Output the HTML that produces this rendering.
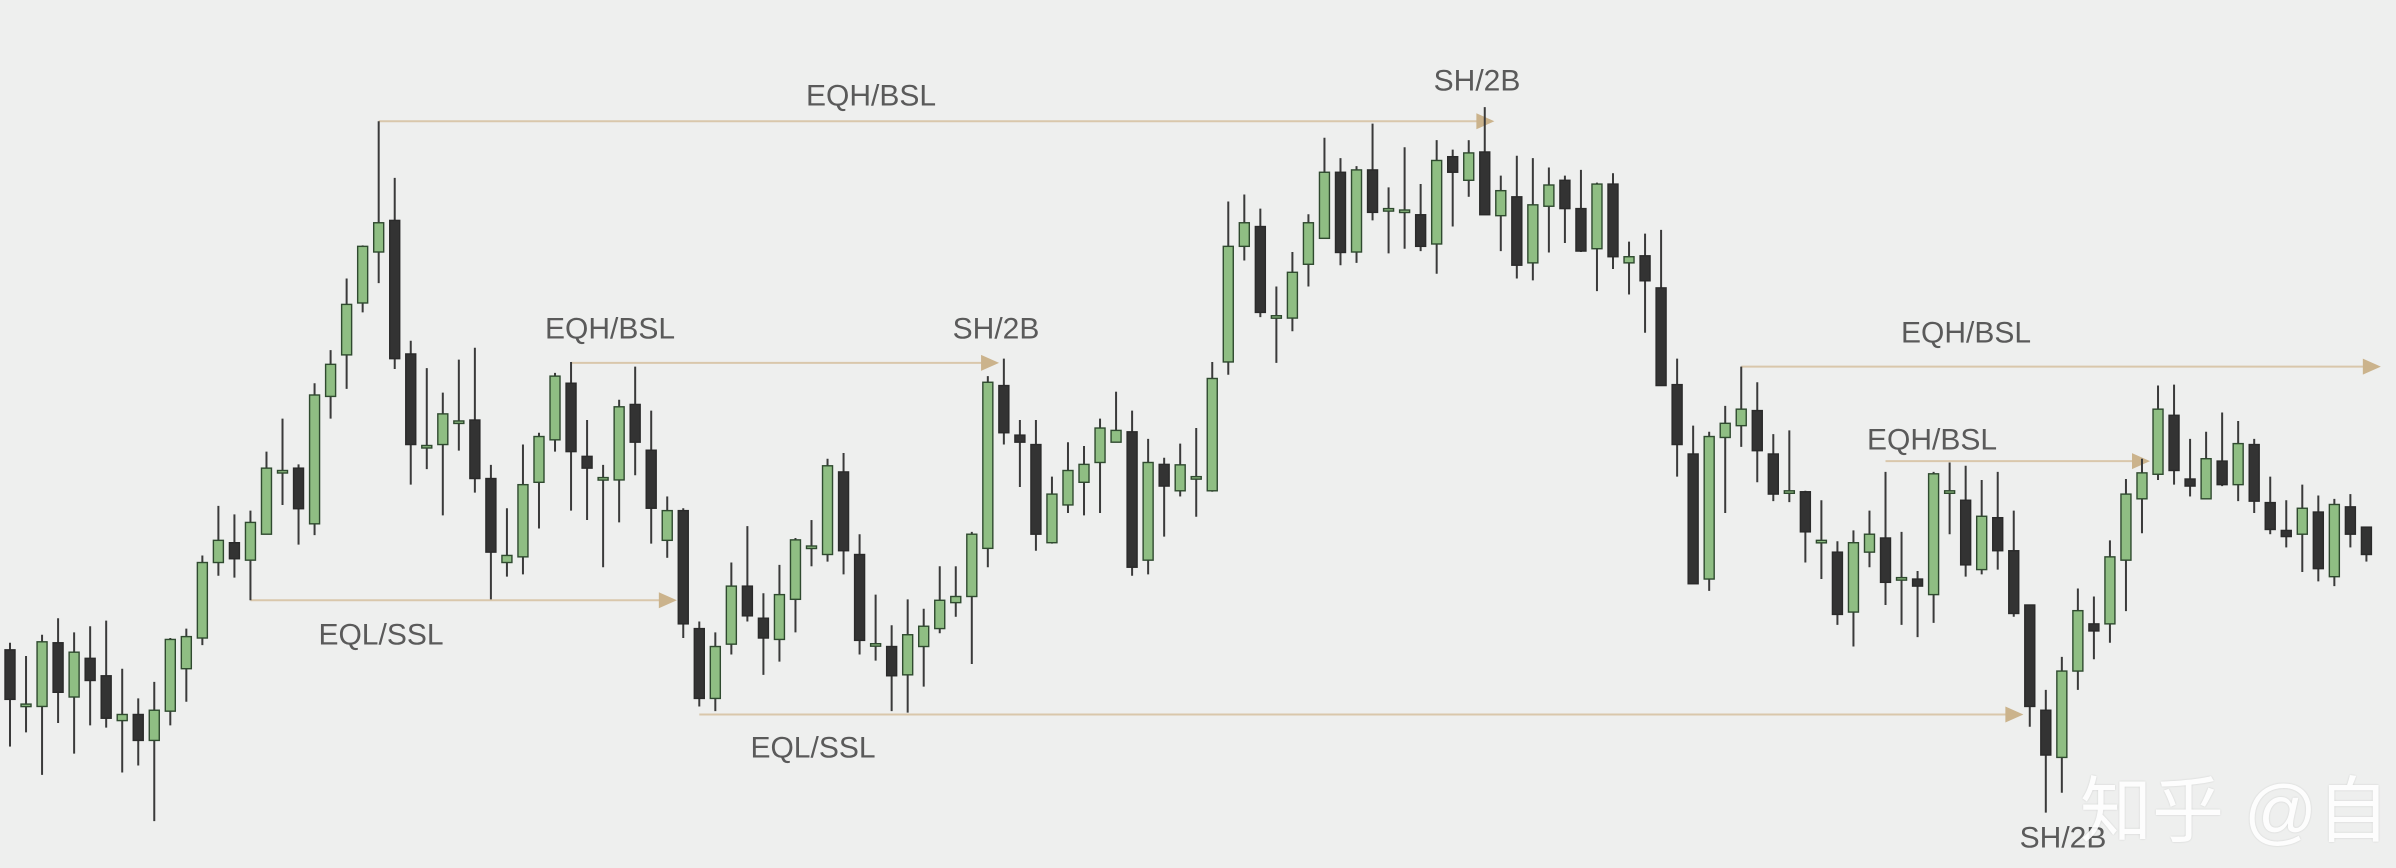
<!DOCTYPE html>
<html><head><meta charset="utf-8">
<style>
html,body{margin:0;padding:0;background:#eeefee;}
#wrap{position:relative;width:2396px;height:868px;overflow:hidden;background:#eeefee;}
svg{position:absolute;left:0;top:0;}
.lbl{font-family:"Liberation Sans",sans-serif;font-size:30px;fill:#5a5a5a;}
.wm{position:absolute;left:2080px;top:752px;font-family:"Liberation Sans","Noto Sans CJK SC",sans-serif;font-size:72px;color:#ffffff;opacity:0.92;white-space:nowrap;text-shadow:0 0 2px rgba(0,0,0,0.15);}
</style></head>
<body>
<div id="wrap">
<svg id="chart" width="2396" height="868"></svg>
<div class="wm">知乎 @自由</div>
</div>
<script>
const opens=[43.5,32,31.5,45,33.5,41.7,38,28.5,29.8,24.3,30.5,39.5,46,62,66.2,62.5,68,81.5,82,70.2,97.2,106,117,127.8,134.5,106.2,86.8,87,92,92.2,79.8,62,63.2,79,88,100,84.5,80,79.5,95.5,85.8,66.7,73,48,33.2,44.7,57,50.2,45.7,54.2,65.5,63.7,81.2,63.7,44.8,44.2,38.2,44.2,48,53.5,54.8,65,99.5,89,87,66.2,74.2,79,83.2,87.5,89.7,62.5,82.8,77.2,80.2,77.2,104.5,129,133.2,114.3,113.8,125.2,130.7,144.7,127.8,145.2,137,136.7,135.7,129.5,148,143,149,135.5,139.5,125.5,137.5,143,137,128.5,142.2,125.5,127,120.2,99.7,85,58.5,88.5,91,94.2,85,77.2,77,66.7,64.2,51.5,64.2,67.2,58.8,58.5,55.2,77.2,75.2,60.5,71.5,64.5,53,30.7,20.7,39,49,49,62.5,75.5,80.7,93.2,79.7,75.5,83.5,78.5,87,74.7,68.8,68,72.7,59,73.8,69.5];
const closes=[33,32,45.2,34.5,43,37,29,29.8,24.3,30.7,45.7,46.3,62,66.7,62.8,70.5,82,81.5,73.4,97.5,104,116.7,129,134,105.2,87,86.8,93.5,92,79.8,64.2,63.5,78.5,88.7,101.5,85.5,82,80,95,87.5,73.5,73,49,33.2,44.2,57,50.7,46,55.2,66.8,65.5,82.5,64.5,45.5,44.8,38,46.7,48.5,54,54.8,68,100.2,89.5,87.5,68,76.5,81.5,82.8,90.5,90,61,83.2,78.2,82.7,80.2,101,129,134,115,114.3,123.5,134,144.7,127.7,145.2,136.2,137,136.7,129,147.2,144.7,148.8,135.7,140.8,125,137.8,142,137,128,142.2,126.8,126.8,121.7,99.5,87,57.5,88.7,91.5,94.5,85.7,76.5,77.2,68.5,66.7,51,66.2,68,57.8,58.8,57,80.8,77.2,61.5,71.8,64.5,51.2,31.5,21.2,39,51.8,47.5,63.2,76.5,81,94.5,81.5,78.2,84,78.5,87.2,75,69,67.5,73.5,60.7,74.3,68,63.7];
const highs=[45,42.2,46.7,50.2,47.2,48.5,49.7,39.5,33.2,36.7,46,48,63.5,74,72.2,73,85.5,92.5,82.8,100,107,122.2,129.2,155.5,143.5,109,103.2,98,105,107.5,82.7,73.5,87,89.5,102.2,104.5,92.2,82.7,96.5,103.5,94.2,76,73.5,49.5,47.2,62,69.7,55.5,61.5,67.2,71,84,85.2,68,55.2,48.7,54.2,52.2,61.2,61.2,68.5,101.5,105.2,92.2,92.2,80.2,87.5,86.7,92.5,98.2,94.2,88.2,84.2,87.2,90.5,104.5,138.5,140,137,120.5,127.8,135.8,152,147.7,146,155,141.5,150,142.2,151.5,149.5,151.5,158.5,144,148.2,147.7,145.7,144,145.2,142.5,144.5,130,131.7,132.5,105.2,91,89.7,95.2,103.5,100.2,89.2,90,77.2,75.2,66.5,68.8,73,81.2,68.5,60.2,81.2,83.2,82.5,79.5,81.2,73,53,35,42,56.5,54.8,66.7,79.7,84,99.5,99.7,88.2,89.7,93.8,92,88.2,80.2,75.2,78.5,76.2,75.5,76.5,69.5];
const lows=[23,26,17,28,21.5,27.5,27,17.5,19,7.2,27.5,32.5,44.5,59.2,58.8,54,68,74.2,65.8,67.8,92.5,98.8,115,121.2,103,78.5,81.8,72,85.7,76.8,54.2,59,59.5,69.2,85.5,73,71,61,70.5,80.5,66,63,46,31.5,30.5,42.5,49.5,38.2,41,47.2,61.2,62.2,59.5,42.5,41.2,30.5,30.2,35.7,47,50.5,40.5,61,87,78,64.5,66,72.5,72,72.5,87.5,59.2,59.5,67.5,76,71.7,77,101.8,126,114,104.3,111,120.5,130.7,125,125.5,134.5,127.5,128.5,128,123.2,133.2,139.5,135.7,128,122.2,121.8,127.7,129.7,127.8,119.5,124.2,118.8,110.7,99.5,80.2,57.5,56,72.5,86.5,79,75,74.8,62,58.5,48.8,44.2,61,53,48.8,46.2,49.2,68,59,59.5,60.5,50.5,27.2,9,13.2,35,41.5,45,51.7,68.2,79.5,78.5,76,75.5,78.2,75,72.5,68,65.2,60,58,57,65.2,62.2];
// liquidity levels: start index, end index, price
const levelStart=[23,35,15,43,108,117];
const levelEnd=[92.6,61.7,41.6,125.6,147.9,133.5];
const levelPrice=[155.5,104.3,54.0,29.8,103.5,83.5];
const levelNames=['eqh-bsl-top-line','eqh-bsl-mid-line','eql-ssl-left-line','eql-ssl-bottom-line','eqh-bsl-right-line','eqh-bsl-right-lower-line'];

function xAt(i){return 10+16.03*i;}
function yAt(p){return 855.1-4.719*p;}
const NS='http://www.w3.org/2000/svg';
const svg=document.getElementById('chart');
function mk(tag,attrs){const e=document.createElementNS(NS,tag);for(const k in attrs)e.setAttribute(k,attrs[k]);return e;}

for(let j=0;j<levelStart.length;j++){
  const g=mk('g',{});
  
  
  const x1=xAt(levelStart[j]),x2=xAt(levelEnd[j]),y=yAt(levelPrice[j]);
  g.appendChild(mk('line',{x1:x1,y1:y,x2:x2-14,y2:y,stroke:'#d9c7ab','stroke-width':2}));
  g.appendChild(mk('polygon',{points:(x2-18)+','+(y-8)+' '+x2+','+y+' '+(x2-18)+','+(y+8),fill:'#cbb38c'}));
  svg.appendChild(g);
}
for(let i=0;i<opens.length;i++){
  const up=closes[i]>=opens[i];
  const g=mk('g',{});
  
  
  const x=xAt(i);
  g.appendChild(mk('line',{x1:x,x2:x,y1:yAt(highs[i]),y2:yAt(lows[i]),stroke:'#3a3a3a','stroke-width':2}));
  const top=yAt(Math.max(opens[i],closes[i])),bot=yAt(Math.min(opens[i],closes[i]));
  const h=Math.max(bot-top,2.5);
  g.appendChild(mk('rect',{x:x-5,y:top,width:10,height:h,fill:up?'#8fbe83':'#333333',stroke:up?'#2f4a2f':'#2a2a2a','stroke-width':1.4}));
  svg.appendChild(g);
}
const labels=[['EQH/BSL',871,96,'label-eqh-bsl-top'],['SH/2B',1477,81,'label-sh-2b-top'],['EQH/BSL',610,329,'label-eqh-bsl-mid'],['SH/2B',996,329,'label-sh-2b-mid'],['EQL/SSL',381,635,'label-eql-ssl-left'],['EQL/SSL',813,748,'label-eql-ssl-bottom'],['EQH/BSL',1966,333,'label-eqh-bsl-right'],['EQH/BSL',1932,440,'label-eqh-bsl-right-lower'],['SH/2B',2063,838,'label-sh-2b-bottom']];
for(const l of labels){
  const t=mk('text',{x:l[1],y:l[2],'text-anchor':'middle','dominant-baseline':'central',class:'lbl'});
  
  
  t.textContent=l[0];
  svg.appendChild(t);
}
</script>
</body></html>
